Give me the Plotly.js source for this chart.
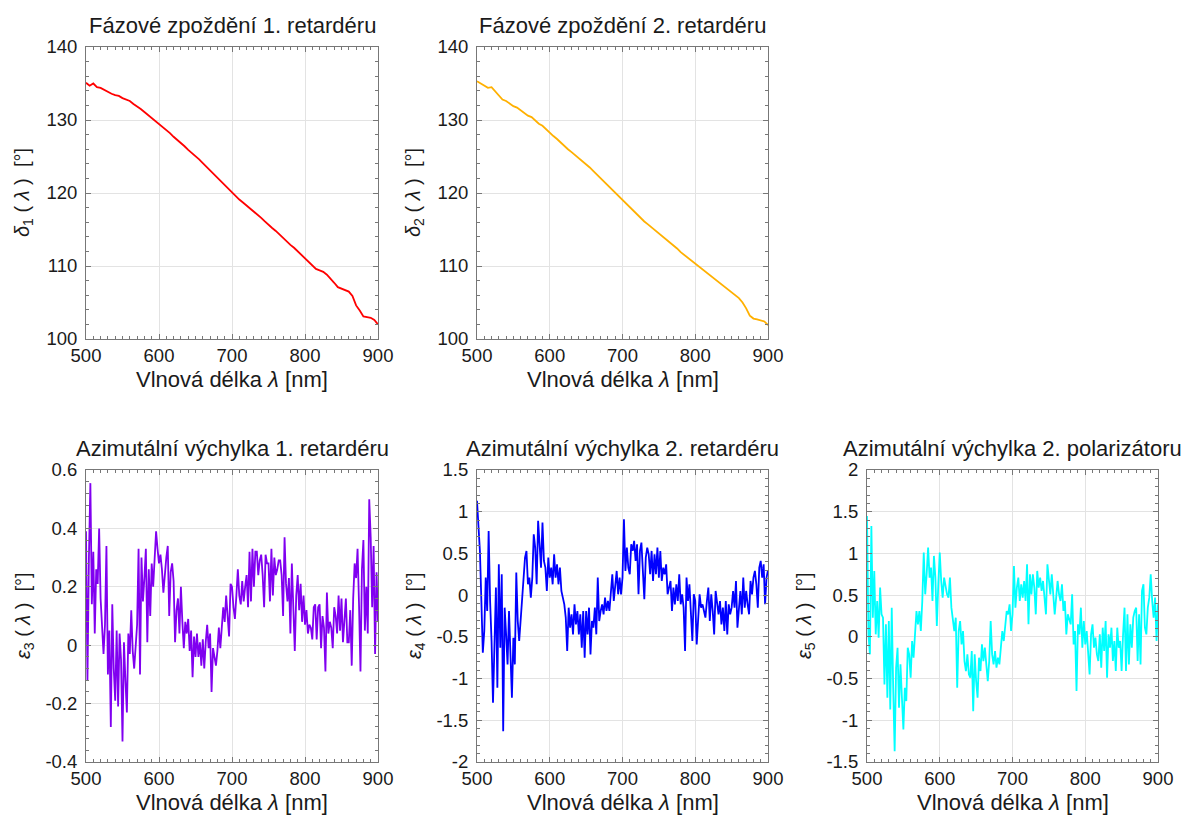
<!DOCTYPE html>
<html>
<head>
<meta charset="utf-8">
<script src="https://cdn.plot.ly/plotly-3.0.1.min.js"></script>
<style>html,body{margin:0;padding:0;background:#fff;}#chart{width:1186px;height:815px;}</style>
</head>
<body>
<div id="chart"></div>
<script>
// ---------------- data ----------------
// wavelength sampling (nm)
const lambdaStart = 500;
const stepSmooth = 5;   // delta1, delta2 sampled every 5 nm
const stepNoisy = 2;    // eps3, eps4, eps5 sampled every 2 nm

const titles = [
  "Fázové zpoždění 1. retardéru",
  "Fázové zpoždění 2. retardéru",
  "Azimutální výchylka 1. retardéru",
  "Azimutální výchylka 2. retardéru",
  "Azimutální výchylka 2. polarizátoru"
];
const yTitles = [
  "<i>δ</i><sub>1</sub> ( <i>λ</i> )  [°]",
  "<i>δ</i><sub>2</sub> ( <i>λ</i> )  [°]",
  "<i>ε</i><sub>3</sub> ( <i>λ</i> )  [°]",
  "<i>ε</i><sub>4</sub> ( <i>λ</i> )  [°]",
  "<i>ε</i><sub>5</sub> ( <i>λ</i> )  [°]"
];
const xTitle = "Vlnová délka <i>λ</i> [nm]";

const xTickVals = [500, 600, 700, 800, 900];
const xTickText = ["500", "600", "700", "800", "900"];
const deltaTickVals = [100, 110, 120, 130, 140];
const deltaTickText = ["100", "110", "120", "130", "140"];
const eps3TickVals = [-0.4, -0.2, 0, 0.2, 0.4, 0.6];
const eps3TickText = ["-0.4", "-0.2", "0", "0.2", "0.4", "0.6"];
const eps4TickVals = [-2, -1.5, -1, -0.5, 0, 0.5, 1, 1.5];
const eps4TickText = ["-2", "-1.5", "-1", "-0.5", "0", "0.5", "1", "1.5"];
const eps5TickVals = [-1.5, -1, -0.5, 0, 0.5, 1, 1.5, 2];
const eps5TickText = ["-1.5", "-1", "-0.5", "0", "0.5", "1", "1.5", "2"];

const delta1 = [
  135.1,134.7,135.0,134.5,134.4,134.1,133.9,133.6,133.4,133.3,
  133.0,132.8,132.6,132.2,131.9,131.5,131.1,130.7,130.3,129.9,
  129.4,129.0,128.6,128.2,127.7,127.3,126.9,126.4,125.9,125.5,
  125.0,124.6,124.1,123.6,123.1,122.6,122.1,121.5,121.0,120.5,
  120.0,119.5,119.1,118.7,118.3,117.9,117.5,117.0,116.6,116.1,
  115.6,115.2,114.8,114.3,113.9,113.4,112.9,112.5,112.0,111.5,
  111.1,110.5,110.0,109.6,109.4,109.2,108.8,108.3,107.7,107.1,
  106.9,106.7,106.5,105.9,104.6,103.9,103.1,103.0,102.9,102.6,
  102.0
];
const delta2 = [
  135.3,135.0,134.7,134.4,134.5,133.9,133.3,132.8,132.6,132.2,
  131.9,131.7,131.3,131.0,130.6,130.4,129.9,129.5,129.2,128.7,
  128.2,127.8,127.4,126.9,126.5,126.0,125.6,125.2,124.8,124.3,
  124.0,123.5,123.0,122.5,122.0,121.5,121.0,120.5,120.0,119.6,
  119.0,118.5,118.0,117.6,117.1,116.6,116.1,115.7,115.3,114.9,
  114.5,114.0,113.6,113.2,112.8,112.4,111.9,111.5,111.1,110.7,
  110.3,109.9,109.5,109.1,108.7,108.4,108.0,107.5,107.1,106.7,
  106.3,105.9,105.6,105.0,104.2,103.2,102.8,102.7,102.6,102.4,
  101.9
];
const eps3 = [
  0.39,-0.12,0.30,0.555,0.14,0.32,0.04,0.26,0.21,0.40,
  0.16,0.08,-0.03,0.07,0.34,-0.10,0.05,-0.28,0.14,-0.08,
  -0.19,0.05,-0.21,0.04,-0.05,-0.33,0.01,-0.12,-0.23,0.04,
  -0.03,0.12,-0.02,-0.08,0.00,0.07,0.33,-0.10,0.30,0.15,
  0.23,0.33,0.01,0.26,0.10,0.28,0.20,0.32,0.39,0.33,
  0.28,0.31,0.26,0.18,0.26,0.30,0.34,0.10,0.25,0.28,
  0.22,0.01,0.12,0.16,0.04,0.20,0.08,-0.01,0.08,0.04,
  0.09,-0.02,0.05,-0.11,0.03,-0.04,0.04,-0.04,0.01,-0.07,
  0.02,-0.08,0.01,0.07,-0.01,0.04,-0.16,-0.01,-0.04,-0.07,
  -0.02,0.06,-0.01,0.08,0.13,0.08,0.17,0.10,0.03,0.21,
  0.20,
  0.13,0.09,0.17,0.26,0.17,0.14,0.22,0.15,0.20,0.24,
  0.13,0.32,0.15,0.33,0.20,0.32,0.32,0.24,0.29,0.31,
  0.24,0.13,0.31,0.28,0.28,0.15,0.33,0.17,0.30,0.24,
  0.26,0.29,0.29,0.24,0.10,0.37,0.21,0.15,0.23,0.04,
  0.28,0.10,-0.02,0.17,0.24,0.12,0.21,0.08,0.17,0.07,
  0.12,0.04,0.07,0.06,0.02,0.13,0.14,0.02,0.13,0.14,
  -0.01,0.10,0.06,-0.09,0.18,0.04,0.08,0.06,-0.01,0.13,
  0.10,0.04,0.17,0.05,0.16,0.01,0.10,0.16,0.01,0.01,
  0.12,-0.07,0.16,0.28,0.23,0.33,0.14,-0.09,0.26,0.36,
  0.05,0.20,0.04,0.50,0.37,0.13,0.34,-0.03,0.25,0.08
];
const eps4 = [
  1.13,0.81,0.53,-0.07,-0.69,-0.43,0.21,-0.19,0.77,-0.07,
  -0.55,-1.29,-0.55,0.09,-1.11,0.37,-0.63,0.25,-1.63,-0.15,
  -0.47,-0.83,-0.19,-0.75,-1.23,-0.51,-0.83,0.27,-0.31,-0.55,
  -0.31,-0.03,0.13,0.45,0.53,0.13,0.21,-0.03,0.21,0.73,
  0.57,0.13,0.89,0.57,0.33,0.87,0.41,0.33,0.05,0.45,
  0.21,0.33,0.13,0.49,0.21,0.37,0.13,0.33,0.05,-0.03,
  -0.11,-0.27,-0.67,-0.15,-0.39,-0.23,-0.47,-0.11,-0.35,-0.19,
  -0.47,-0.23,-0.63,-0.19,-0.75,-0.19,-0.47,-0.15,-0.71,-0.31,
  -0.39,-0.15,-0.47,0.21,-0.31,-0.19,-0.11,-0.23,-0.03,-0.19,
  -0.07,-0.19,0.01,0.25,-0.07,0.17,0.29,0.01,0.21,0.01,
  0.21,
  0.91,0.29,0.57,0.33,0.25,0.61,0.53,0.65,0.41,0.61,
  0.01,0.53,0.63,0.25,-0.05,0.45,0.57,0.49,0.25,0.53,
  0.17,0.49,0.25,0.57,0.21,0.53,0.17,0.33,0.25,0.37,
  0.01,0.09,0.17,-0.19,0.09,-0.11,0.13,-0.07,0.25,-0.11,
  0.01,-0.15,-0.67,0.21,-0.07,0.13,-0.19,-0.55,0.01,-0.07,
  -0.59,-0.19,0.01,-0.15,-0.11,-0.19,-0.27,-0.07,0.09,-0.31,
  0.01,-0.19,-0.47,0.05,-0.11,-0.23,-0.07,-0.35,-0.15,-0.43,
  -0.07,-0.47,-0.11,-0.23,-0.15,0.05,-0.15,0.17,-0.39,-0.11,
  0.05,-0.23,0.21,-0.15,0.05,-0.11,-0.23,0.17,0.01,0.21,
  0.29,0.13,-0.15,0.33,0.41,0.21,0.37,-0.11,0.21,0.30
];
const eps5 = [
  1.45,0.03,-0.21,1.33,0.23,0.79,0.03,0.43,-0.01,0.59,
  0.27,0.23,-0.57,0.15,-0.73,0.19,-0.87,0.35,-0.61,-1.37,
  -0.37,-0.13,-0.85,-0.33,-0.73,-1.11,-0.61,-0.77,-0.13,-0.21,
  -0.49,-0.05,-0.25,0.03,0.31,0.15,0.31,0.07,0.43,1.01,
  0.51,0.75,1.07,0.71,0.83,0.43,0.97,0.71,0.13,0.63,
  1.01,0.67,0.47,0.71,0.59,0.51,0.47,0.71,0.35,0.23,
  0.07,0.23,-0.61,0.07,0.19,-0.09,0.07,-0.29,-0.41,-0.21,
  -0.45,-0.49,-0.17,-0.89,-0.21,-0.53,-0.73,-0.25,-0.41,-0.09,
  -0.29,-0.13,-0.33,-0.53,-0.29,0.19,-0.21,-0.33,-0.17,-0.37,
  -0.25,-0.33,-0.13,0.07,-0.05,0.11,0.31,0.27,0.39,0.07,
  0.27,
  0.85,0.35,0.59,0.71,0.43,0.63,0.47,0.67,0.43,0.87,
  0.15,0.75,0.51,0.75,0.59,0.27,0.79,0.59,0.71,0.55,
  0.67,0.51,0.27,0.87,0.71,0.51,0.75,0.55,0.27,0.47,
  0.67,0.51,0.43,0.63,0.31,0.43,0.03,0.27,0.19,0.15,
  0.51,-0.09,0.07,-0.65,0.15,0.03,0.35,-0.13,0.19,-0.09,
  0.07,-0.21,-0.45,0.03,0.15,-0.13,-0.01,-0.21,-0.29,0.03,
  -0.37,0.11,-0.17,0.19,-0.49,0.03,-0.13,0.11,-0.29,-0.05,
  -0.41,0.11,-0.13,-0.05,-0.41,0.03,0.35,-0.41,0.27,-0.33,
  0.15,-0.13,0.23,0.31,0.35,-0.29,0.27,-0.33,0.55,0.63,
  0.11,0.03,0.35,0.47,0.75,0.43,0.23,0.47,-0.05,0.39
];

// ---------------- layout helpers ----------------
const W = 1186, H = 815;
const colsPx = [[86, 378], [477, 768], [867, 1158]];
const rowsPx = [[47, 339], [470, 762]];
const px2x = p => p / W;
const px2y = p => 1 - p / H;

const panels = [
  {y: delta1, step: stepSmooth, color: "#ff0000", col: 0, row: 0, range: [100, 140], tv: deltaTickVals, tt: deltaTickText, minor: 2},
  {y: delta2, step: stepSmooth, color: "#ffb000", col: 1, row: 0, range: [100, 140], tv: deltaTickVals, tt: deltaTickText, minor: 2},
  {y: eps3, step: stepNoisy, color: "#8000f0", col: 0, row: 1, range: [-0.4, 0.6], tv: eps3TickVals, tt: eps3TickText, minor: 0.04},
  {y: eps4, step: stepNoisy, color: "#0000ff", col: 1, row: 1, range: [-2, 1.5], tv: eps4TickVals, tt: eps4TickText, minor: 0.1},
  {y: eps5, step: stepNoisy, color: "#00ffff", col: 2, row: 1, range: [-1.5, 2], tv: eps5TickVals, tt: eps5TickText, minor: 0.1}
];

const FONT = "Liberation Sans, Arial, sans-serif";
const frameColor = "#777777";
const gridColor = "#e3e3e3";
const textColor = "#1a1a1a";

const data = [];
const layout = {
  width: W, height: H,
  margin: {l: 0, r: 0, t: 0, b: 0, pad: 0},
  paper_bgcolor: "#ffffff",
  plot_bgcolor: "#ffffff",
  showlegend: false,
  font: {family: FONT, size: 18, color: textColor},
  annotations: []
};

panels.forEach((p, i) => {
  const n = i + 1;
  const xa = "x" + (n === 1 ? "" : n);
  const ya = "y" + (n === 1 ? "" : n);
  data.push({
    type: "scatter", mode: "lines",
    x0: lambdaStart, dx: p.step, y: p.y,
    xaxis: xa, yaxis: ya,
    line: {color: p.color, width: 1.8},
    hoverinfo: "x+y"
  });
  const cx = colsPx[p.col], ry = rowsPx[p.row];
  const common = {
    showline: true, linecolor: frameColor, linewidth: 1, mirror: "allticks",
    ticks: "inside", ticklen: 5, tickcolor: frameColor, tickwidth: 1,
    showgrid: true, gridcolor: gridColor, gridwidth: 1, zeroline: false,
    tickfont: {family: FONT, size: 18.5, color: textColor},
    tickmode: "array"
  };
  layout["xaxis" + (n === 1 ? "" : n)] = Object.assign({}, common, {
    domain: [px2x(cx[0]), px2x(cx[1])],
    anchor: ya,
    range: [500, 900],
    tickvals: xTickVals, ticktext: xTickText,
    minor: {ticks: "inside", ticklen: 3, dtick: 10, tick0: 500, tickcolor: frameColor, showgrid: false}
  });
  layout["yaxis" + (n === 1 ? "" : n)] = Object.assign({}, common, {
    domain: [px2y(ry[1]), px2y(ry[0])],
    anchor: xa,
    range: p.range,
    tickvals: p.tv, ticktext: p.tt,
    ticklabelstandoff: 4,
    minor: {ticks: "inside", ticklen: 3, dtick: p.minor, tick0: p.range[0], tickcolor: frameColor, showgrid: false}
  });
  const midX = (cx[0] + cx[1]) / 2;
  const midY = (ry[0] + ry[1]) / 2;
  // panel title
  layout.annotations.push({
    text: titles[i], xref: "paper", yref: "paper",
    x: px2x(midX), y: px2y(ry[0] - 22), xanchor: "center", yanchor: "middle",
    showarrow: false, font: {family: FONT, size: 22, color: textColor}
  });
  // x title
  layout.annotations.push({
    text: xTitle, xref: "paper", yref: "paper",
    x: px2x(midX), y: px2y(ry[1] + 40), xanchor: "center", yanchor: "middle",
    showarrow: false, font: {family: FONT, size: 22, color: textColor}
  });
  // y title
  layout.annotations.push({
    text: yTitles[i], xref: "paper", yref: "paper",
    x: px2x(cx[0] - 62), y: px2y(midY), xanchor: "center", yanchor: "middle",
    textangle: -90,
    showarrow: false, font: {family: FONT, size: 20, color: textColor}
  });
});

Plotly.newPlot("chart", data, layout, {displayModeBar: false, staticPlot: true});
</script>
</body>
</html>
